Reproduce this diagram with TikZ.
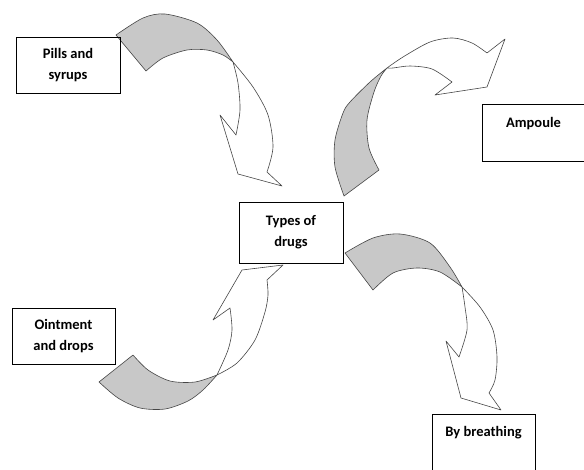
\documentclass[tikz,border=0pt]{standalone}
\usepackage{fontspec}
\setmainfont{Carlito}
\usepackage{tikz}
\usetikzlibrary{positioning}

\definecolor{ribbon}{RGB}{200,200,200}
\definecolor{edge}{RGB}{70,70,70}

\tikzset{
	box/.style={draw, line width=0.8pt, inner sep=0pt, minimum width=104pt, align=center, font=\fontsize{14.5}{21}\selectfont\bfseries},
	back/.style={fill=ribbon, draw=edge, line width=0.6pt, line join=round},
	front/.style={fill=white, draw=edge, line width=0.6pt, line join=round}
}

\begin{document}
\begin{tikzpicture}[x=1pt, y=-1pt]
	\useasboundingbox [fill=white] (0,0) rectangle (584,469);

	% pills and syrups -> types
	\path [front] plot [smooth] coordinates {(233,62) (253,87) (268,115) (273,147) (267,172)} -- (282,186) -- (238,174) -- (220,115) -- (236,135) -- plot [smooth] coordinates {(236,135) (240,110) (238,83) (233,62)} -- cycle;
	\path [back] plot [smooth] coordinates {(116,35) (143,18) (165,14) (197,23) (217,40) (233,62)} -- plot [smooth] coordinates {(233,62) (223,55) (207,50) (187,50) (163,58) (146,71)} -- cycle;

	% types -> ampoule
	\path [front] plot [smooth] coordinates {(387,68) (403,57) (430,42) (453,38) (472,43) (487,53)} -- (505,39) -- (487,87) -- (435,95) -- (452,82) -- plot [smooth] coordinates {(452,82) (432,69) (410,66) (393,68) (387,68)} -- cycle;
	\path [back] plot [smooth] coordinates {(344,196) (335,167) (335,140) (343,113) (350,102) (370,82) (387,68)} -- plot [smooth] coordinates {(387,68) (381,76) (374,92) (367,120) (369,148) (379,170)} -- cycle;

	% ointment and drops -> types
	\path [front] plot [smooth] coordinates {(217,375) (237,363) (255,340) (265,312) (268,295) (267,280)} -- (283,265) -- (242,270) -- (213,320) -- (230,308) -- plot [smooth] coordinates {(230,308) (232,330) (228,350) (217,375)} -- cycle;
	\path [back] plot [smooth] coordinates {(133,355) (148,370) (170,381) (195,382) (217,375)} -- plot [smooth] coordinates {(217,375) (203,390) (188,401) (165,409) (140,408) (118,398) (99,382)} -- cycle;

	% types -> by breathing
	\path [front] plot [smooth] coordinates {(462,287) (480,307) (493,330) (497,357) (495,380) (489,393)} -- (501,410) -- (461,398) -- (446,341) -- (459,357) -- plot [smooth] coordinates {(459,357) (467,330) (465,307) (462,287)} -- cycle;
	\path [back] plot [smooth] coordinates {(345,253) (373,238) (400,234) (430,243) (450,267) (462,287)} -- plot [smooth] coordinates {(462,287) (440,272) (417,268) (393,273) (373,290)} -- cycle;

	\node [box, minimum height=56pt] (pills) at (68,65) {Pills and\\syrups};
	\node [box, minimum height=61pt, fill=white] (types) at (291,232.5) {Types of\\drugs};
	\node [box, minimum width=103pt, minimum height=57pt, text height=10pt, text depth=21pt] (ampoule) at (533.5,132.5) {Ampoule};
	\node [box, minimum width=103pt, minimum height=56pt] (ointment) at (63.5,336) {Ointment\\and drops};
	\node [box, minimum width=103pt, minimum height=61pt, text height=10pt, text depth=26pt] (breathing) at (483.5,444.5) {By breathing};
\end{tikzpicture}
\end{document}
